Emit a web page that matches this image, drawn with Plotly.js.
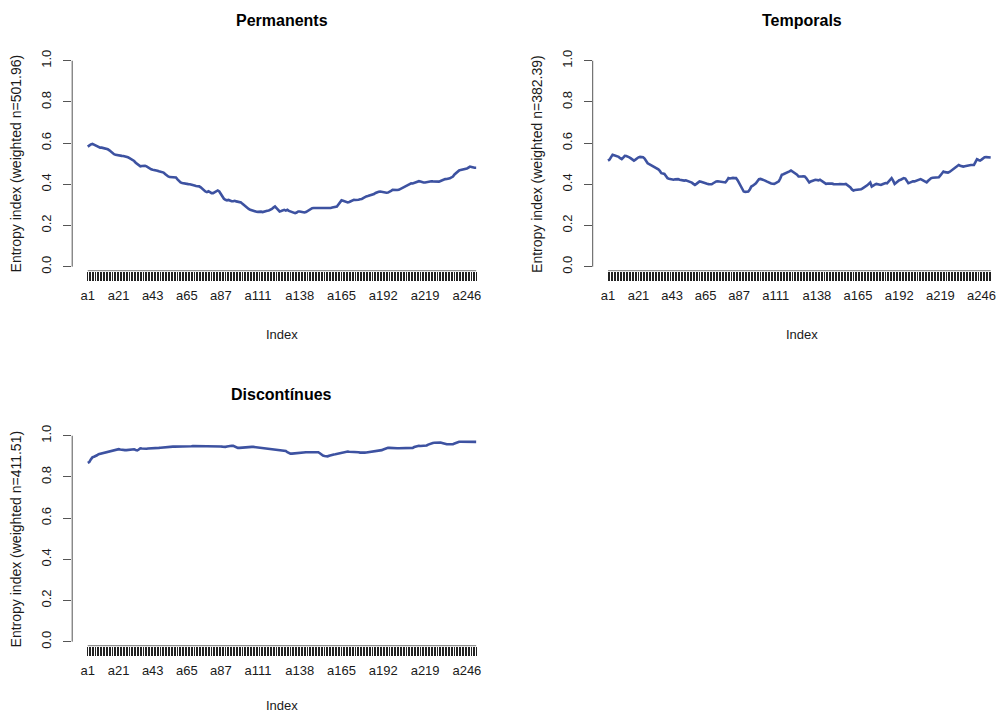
<!DOCTYPE html>
<html>
<head>
<meta charset="utf-8">
<script src="https://cdn.plot.ly/plotly-3.0.1.min.js"></script>
<style>html,body{margin:0;padding:0;background:#fff}#chart{width:1006px;height:715px}</style>
</head>
<body>
<div id="chart"></div>
<script>
// ---- data ----
var nPos = 252;
var categories = [];
for (var i = 1; i <= nPos; i++) categories.push('a' + i);

var shownLabels = ['a1','a21','a43','a65','a87','a111','a138','a165','a192','a219','a246'];

var panelTitles = ['Permanents', 'Temporals', 'Discontínues'];
var yTitles = ['Entropy index (weighted n=501.96)', 'Entropy index (weighted n=382.39)', 'Entropy index (weighted n=411.51)'];
var xTitle = 'Index';
var yTickVals = [0, 0.2, 0.4, 0.6, 0.8, 1.0];
var yTickText = ['0.0', '0.2', '0.4', '0.6', '0.8', '1.0'];

var permanents = [
0.583,0.59,0.594,0.596,0.592,0.588,0.584,0.58,0.578,0.578,
0.576,0.575,0.574,0.57,0.565,0.558,0.551,0.546,0.543,0.541,
0.54,0.539,0.538,0.537,0.536,0.535,0.531,0.527,0.523,0.519,
0.513,0.505,0.498,0.49,0.487,0.489,0.49,0.49,0.487,0.481,
0.476,0.473,0.471,0.47,0.468,0.466,0.463,0.46,0.458,0.457,
0.45,0.443,0.438,0.435,0.434,0.434,0.433,0.433,0.424,0.415,
0.409,0.406,0.404,0.403,0.402,0.401,0.40,0.399,0.397,0.394,
0.392,0.391,0.39,0.385,0.378,0.371,0.365,0.362,0.366,0.362,
0.357,0.357,0.362,0.368,0.37,0.365,0.352,0.339,0.33,0.325,
0.322,0.324,0.32,0.318,0.318,0.32,0.317,0.316,0.315,0.312,
0.305,0.298,0.292,0.286,0.28,0.276,0.273,0.27,0.268,0.267,
0.266,0.267,0.267,0.265,0.268,0.27,0.272,0.273,0.275,0.28,
0.287,0.292,0.284,0.274,0.268,0.27,0.274,0.276,0.272,0.276,
0.271,0.268,0.264,0.262,0.26,0.263,0.268,0.268,0.266,0.264,
0.263,0.265,0.27,0.277,0.282,0.284,0.285,0.285,0.286,0.286,
0.284,0.283,0.284,0.285,0.283,0.283,0.283,0.285,0.287,0.288,
0.29,0.292,0.302,0.314,0.322,0.32,0.316,0.313,0.312,0.314,
0.318,0.322,0.325,0.324,0.323,0.325,0.327,0.328,0.333,0.338,
0.341,0.343,0.345,0.347,0.349,0.353,0.358,0.362,0.364,0.365,
0.363,0.36,0.36,0.359,0.36,0.363,0.368,0.373,0.372,0.371,
0.372,0.373,0.377,0.382,0.386,0.39,0.395,0.4,0.403,0.405,
0.404,0.406,0.41,0.413,0.415,0.413,0.41,0.409,0.409,0.411,
0.413,0.415,0.415,0.414,0.413,0.414,0.414,0.413,0.416,0.42,
0.423,0.425,0.426,0.427,0.429,0.433,0.438,0.448,0.456,0.462,
0.467,0.47,0.471,0.472,0.474,0.476,0.481,0.486,0.484,0.481,
0.48,0.48];

var temporals = [
0.515,0.52,0.532,0.543,0.541,0.539,0.538,0.533,0.527,0.522,
0.53,0.538,0.537,0.535,0.531,0.526,0.52,0.515,0.52,0.526,
0.531,0.533,0.532,0.531,0.525,0.514,0.502,0.498,0.494,0.49,
0.485,0.48,0.477,0.473,0.465,0.454,0.452,0.45,0.44,0.43,
0.427,0.425,0.423,0.422,0.424,0.426,0.425,0.422,0.42,0.418,
0.418,0.419,0.416,0.414,0.412,0.408,0.402,0.397,0.402,0.41,
0.414,0.412,0.409,0.406,0.405,0.403,0.401,0.4,0.4,0.405,
0.41,0.414,0.415,0.414,0.414,0.413,0.411,0.409,0.418,0.43,
0.428,0.43,0.431,0.43,0.43,0.42,0.405,0.389,0.375,0.365,
0.363,0.365,0.365,0.375,0.389,0.393,0.397,0.405,0.415,0.425,
0.426,0.424,0.42,0.418,0.414,0.41,0.405,0.404,0.403,0.402,
0.406,0.41,0.414,0.428,0.446,0.449,0.452,0.454,0.459,0.463,
0.467,0.462,0.458,0.454,0.447,0.438,0.437,0.438,0.439,0.438,
0.43,0.419,0.409,0.414,0.418,0.42,0.422,0.421,0.419,0.422,
0.418,0.412,0.406,0.402,0.403,0.404,0.405,0.403,0.401,0.40,
0.40,0.40,0.401,0.40,0.399,0.40,0.402,0.397,0.393,0.385,
0.375,0.37,0.372,0.373,0.374,0.373,0.376,0.38,0.384,0.389,
0.395,0.402,0.409,0.389,0.392,0.398,0.402,0.401,0.399,0.397,
0.40,0.404,0.406,0.405,0.413,0.422,0.43,0.418,0.402,0.408,
0.415,0.42,0.422,0.426,0.43,0.428,0.418,0.405,0.408,0.412,
0.414,0.414,0.416,0.419,0.422,0.425,0.421,0.416,0.412,0.409,
0.417,0.425,0.43,0.432,0.433,0.434,0.434,0.434,0.443,0.455,
0.462,0.459,0.457,0.457,0.46,0.466,0.472,0.478,0.484,0.49,
0.494,0.49,0.487,0.486,0.488,0.49,0.492,0.493,0.494,0.494,
0.494,0.508,0.522,0.518,0.515,0.52,0.527,0.531,0.532,0.531,
0.53,0.53];

var discontinues = [
0.868,0.872,0.885,0.895,0.898,0.9,0.905,0.91,0.912,0.914,
0.916,0.918,0.92,0.922,0.925,0.927,0.928,0.931,0.934,0.936,
0.935,0.933,0.931,0.93,0.93,0.93,0.931,0.933,0.935,0.936,
0.934,0.931,0.929,0.933,0.939,0.938,0.937,0.937,0.937,0.938,
0.938,0.938,0.939,0.94,0.94,0.941,0.941,0.942,0.943,0.944,
0.945,0.945,0.946,0.946,0.946,0.947,0.947,0.947,0.948,0.948,
0.948,0.947,0.946,0.947,0.948,0.948,0.948,0.949,0.95,0.95,
0.95,0.951,0.951,0.951,0.951,0.951,0.951,0.951,0.951,0.951,
0.951,0.951,0.951,0.95,0.95,0.949,0.948,0.947,0.946,0.946,
0.948,0.95,0.951,0.951,0.951,0.947,0.943,0.941,0.941,0.942,
0.943,0.944,0.945,0.946,0.946,0.946,0.946,0.946,0.945,0.945,
0.944,0.943,0.942,0.942,0.941,0.941,0.94,0.939,0.938,0.937,
0.936,0.936,0.935,0.934,0.933,0.932,0.931,0.929,0.926,0.92,
0.915,0.913,0.913,0.914,0.916,0.917,0.917,0.917,0.918,0.918,
0.919,0.92,0.92,0.92,0.92,0.919,0.919,0.92,0.921,0.92,
0.915,0.908,0.904,0.902,0.9,0.9,0.903,0.906,0.908,0.909,
0.91,0.912,0.913,0.915,0.918,0.92,0.922,0.922,0.923,0.922,
0.922,0.922,0.922,0.922,0.921,0.92,0.918,0.917,0.917,0.918,
0.919,0.92,0.921,0.922,0.922,0.924,0.925,0.926,0.928,0.929,
0.93,0.933,0.936,0.939,0.941,0.941,0.94,0.939,0.939,0.939,
0.939,0.939,0.939,0.939,0.939,0.939,0.939,0.939,0.939,0.939,
0.941,0.945,0.948,0.951,0.951,0.95,0.95,0.951,0.951,0.953,
0.957,0.961,0.964,0.965,0.966,0.967,0.968,0.969,0.967,0.965,
0.962,0.96,0.959,0.959,0.958,0.958,0.959,0.962,0.966,0.969,
0.971,0.971,0.971,0.97,0.97,0.97,0.97,0.971,0.971,0.97,
0.97,0.97];

var seriesList = [permanents, temporals, discontinues];

// ---- layout geometry (pixels) ----
var W = 1006, H = 715;
var FONT = 'Liberation Sans, Arial, sans-serif';
var lineColor = '#3d52a1';
var offsets = [[0, 0], [520.5, 0], [0, 375]];
var base = { left: 72.2, right: 491.7, top: 52.5, bottom: 274.9, xaxisY: 270.7 };
function fx(px) { return px / W; }
function fy(py) { return 1 - py / H; }

var tickText = categories.map(function (c) { return shownLabels.indexOf(c) >= 0 ? c : ''; });

var data = [];
var layout = {
  width: W, height: H,
  margin: { l: 0, r: 0, t: 0, b: 0 },
  paper_bgcolor: '#ffffff', plot_bgcolor: '#ffffff',
  showlegend: false,
  font: { family: FONT, color: '#1a1a1a', size: 13 },
  shapes: [], annotations: []
};

for (var p = 0; p < 3; p++) {
  var dx = offsets[p][0], dy = offsets[p][1];
  var sfx = p === 0 ? '' : String(p + 1);
  data.push({
    type: 'scatter', mode: 'lines',
    x: categories, y: seriesList[p],
    xaxis: 'x' + sfx, yaxis: 'y' + sfx,
    line: { color: lineColor, width: 2.6 },
    hoverinfo: 'x+y'
  });
  layout['xaxis' + sfx] = {
    type: 'category',
    domain: [fx(base.left + dx), fx(base.right + dx)],
    range: [-10.04, 261.04],
    anchor: 'free',
    position: fy(base.xaxisY + dy),
    showgrid: false, zeroline: false, showline: false,
    tickmode: 'array', tickvals: categories, ticktext: tickText,
    ticks: 'outside', ticklen: 9, tickwidth: 1, tickcolor: '#222',
    tickangle: 0, ticklabelstandoff: 4,
    tickfont: { family: FONT, size: 13, color: '#1a1a1a' },
    fixedrange: true
  };
  layout['yaxis' + sfx] = {
    domain: [fy(base.bottom + dy), fy(base.top + dy)],
    range: [-0.04, 1.04],
    anchor: 'x' + sfx,
    showgrid: false, zeroline: false, showline: false,
    tickmode: 'array', tickvals: yTickVals, ticktext: yTickText,
    ticks: 'outside', ticklen: 8, tickwidth: 1, tickcolor: '#555',
    tickangle: -90, ticklabelstandoff: 7,
    tickfont: { family: FONT, size: 13, color: '#1a1a1a' },
    fixedrange: true
  };
  // y axis line spanning 0..1 (R style)
  layout.shapes.push({
    type: 'line', xref: 'paper', yref: 'y' + sfx,
    x0: fx(base.left + dx), x1: fx(base.left + dx), y0: 0, y1: 1,
    line: { color: '#555', width: 1 }
  });
  // x axis line from first to last position
  layout.shapes.push({
    type: 'line', xref: 'x' + sfx, yref: 'paper',
    x0: 0, x1: nPos - 1, y0: fy(base.xaxisY + dy), y1: fy(base.xaxisY + dy),
    line: { color: '#777', width: 1 }
  });
  var cx = (base.left + base.right) / 2 + dx;
  layout.annotations.push({
    text: '<b>' + panelTitles[p] + '</b>', xref: 'paper', yref: 'paper',
    x: fx(cx), y: fy(20 + dy), xanchor: 'center', yanchor: 'middle',
    showarrow: false, font: { family: FONT, size: 16, color: '#000' }
  });
  layout.annotations.push({
    text: xTitle, xref: 'paper', yref: 'paper',
    x: fx(cx), y: fy(Math.min(334 + dy, 705)), xanchor: 'center', yanchor: 'middle',
    showarrow: false, font: { family: FONT, size: 13, color: '#1a1a1a' }
  });
  layout.annotations.push({
    text: yTitles[p], xref: 'paper', yref: 'paper', textangle: -90,
    x: fx(15.7 + dx), y: fy(163.7 + dy), xanchor: 'center', yanchor: 'middle',
    showarrow: false, font: { family: FONT, size: 14, color: '#1a1a1a' }
  });
}

Plotly.newPlot('chart', data, layout, { displayModeBar: false, staticPlot: true });
</script>
</body>
</html>
